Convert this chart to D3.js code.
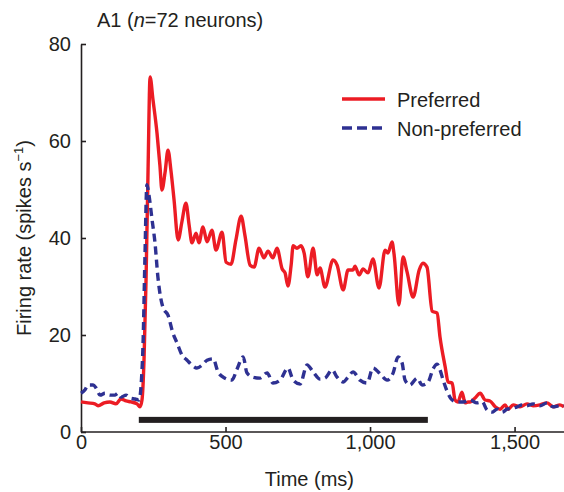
<!DOCTYPE html>
<html>
<head>
<meta charset="utf-8">
<script src="https://cdn.jsdelivr.net/npm/d3@7/dist/d3.min.js"></script>
<style>
  html, body { margin: 0; padding: 0; background: #fff; }
  svg { display: block; font-family: "Liberation Sans", Arial, Helvetica, sans-serif; }
</style>
</head>
<body>
<svg id="chart" width="564" height="492"></svg>
<script>
// ---- Data ----
const preferredTime = [0,24,48,59,80,100,121,138,156,173,194,204,211,218,225,232,239,249,263,273,280,291,301,311,322,336,349,363,374,384,398,408,422,436,453,467,488,502,519,536,554,567,585,599,616,633,647,664,678,696,706,716,727,734,747,761,772,785,803,817,827,844,872,886,907,924,941,948,962,976,993,1010,1031,1052,1062,1076,1083,1100,1114,1128,1149,1170,1183,1197,1215,1232,1242,1260,1270,1284,1294,1304,1318,1329,1339,1346,1363,1381,1398,1415,1433,1450,1467,1478,1495,1519,1543,1564,1588,1612,1633,1657,1671];
const preferredRate = [6.2,6.0,5.8,5.4,6.0,6.2,5.8,6.8,6.4,6.2,5.8,5.2,6.6,14.8,31.3,54,73.2,68.5,61.6,55,49.9,53.6,58.1,54,47.8,39.6,43.3,47.2,42.7,39,41,39,42.3,39.2,41.6,37.5,41.2,35,34.6,39.6,44.5,40.6,34.4,34,37.9,35.9,37.3,35.9,37.9,33.6,32.8,30.1,34.4,38.4,37.9,38.4,36.9,32,37.9,32.4,33.8,29.9,35.5,34.4,29.3,33.4,33.4,34.2,32.4,33.6,32.8,35.7,29.7,37.5,36.9,39.2,36.7,26.2,36.1,33,27.8,33.4,34.8,34,24.9,24.5,19.6,13.4,10.3,10.1,6.6,6.2,8.2,6,6.2,6.2,7,8,6.6,6.4,5.2,4.7,5.6,4.7,5.6,5.2,5.8,5.4,5.6,6,5.2,5.6,5.2];

const nonPreferredTime = [0,14,24,42,52,66,83,100,118,128,138,156,170,187,201,208,215,221,228,235,246,256,266,284,301,318,332,349,367,384,401,419,436,457,474,498,522,540,561,574,595,619,644,664,689,716,734,758,782,803,827,844,869,886,907,924,941,965,990,1010,1035,1059,1080,1097,1111,1121,1138,1163,1180,1201,1218,1232,1242,1253,1266,1284,1301,1322,1346,1370,1388,1405,1422,1439,1457,1474,1491,1509,1526,1543,1564,1588,1612,1633,1657,1671];
const nonPreferredRate = [8.0,8.7,9.7,9.7,9.1,7.6,8.0,7.6,7.6,8.0,7.2,7.6,7.0,6.8,6.6,9.7,19,35.5,51,48.9,43.7,39,32,25.6,24.1,20.4,18.4,15.9,14.8,13.8,13.2,13.8,14.8,15.1,12.4,11.1,10.7,13,15.5,12.2,11.3,11.1,12.2,10.1,10.7,13.2,10.7,9.9,13.8,12.4,10.9,11.1,12.8,11.3,10.3,11.3,12.4,10.7,10.1,13.2,12,10.7,12.2,15.5,14.2,10.7,9.7,11.1,9.7,10.3,13,14,12.8,10.7,8.5,6.6,6.2,6.2,6.6,6,6.2,4.5,4.1,4.7,4.1,4.7,4.9,5.2,5.6,5.4,5.8,5.4,6,5.2,5.4,5.4];

const stimulusWindow = [200, 1200];
const stimulusLevel = 2.5;

const xTicks = [0, 500, 1000, 1500];
const yTicks = [0, 20, 40, 60, 80];
const seriesNames = ["Preferred", "Non-preferred"];
const titleParts = ["A1 (", "n", "=72 neurons)"];

// ---- Layout ----
const svg = d3.select("#chart");
const RED = "#ec1c24", BLUE = "#2e3192";
const x = d3.scaleLinear().domain([0, 1671]).range([81, 564]);
const y = d3.scaleLinear().domain([0, 80]).range([432, 44]);

// Title
const title = svg.append("text").attr("x", 97).attr("y", 27).attr("font-size", 20).attr("fill", "#231f20");
title.append("tspan").text(titleParts[0]);
title.append("tspan").attr("font-style", "italic").text(titleParts[1]);
title.append("tspan").text(titleParts[2]);

// Axes
const fmt = d3.format(",");
const xAxis = d3.axisBottom(x).tickValues(xTicks).tickFormat(fmt).tickSizeInner(-5).tickSizeOuter(0).tickPadding(3);
const yAxis = d3.axisLeft(y).tickValues(yTicks).tickSizeInner(-5).tickSizeOuter(0).tickPadding(10);

const gx = svg.append("g").attr("transform", `translate(0,${y(0)})`).call(xAxis);
const gy = svg.append("g").attr("transform", `translate(${x(0)},0)`).call(yAxis);
[gx, gy].forEach(g => {
  g.attr("font-family", null).attr("font-size", null);
  g.selectAll("path.domain").attr("stroke", "#231f20").attr("stroke-width", 1.6);
  g.selectAll(".tick line").attr("stroke", "#231f20").attr("stroke-width", 1.6);
  g.selectAll(".tick text").attr("fill", "#231f20").attr("font-size", 20);
});
gx.select("path.domain").attr("d", `M${x(0)},0H564`);

// Axis labels
svg.append("text").attr("x", x(790)).attr("y", 486).attr("text-anchor", "middle")
  .attr("font-size", 20).attr("fill", "#231f20").text("Time (ms)");
const yl = svg.append("text").attr("transform", `translate(31,${y(40)}) rotate(-90)`)
  .attr("text-anchor", "middle").attr("font-size", 20).attr("fill", "#231f20");
yl.append("tspan").text("Firing rate (spikes s");
yl.append("tspan").attr("font-size", 13).attr("dy", -8).text("\u22121");
yl.append("tspan").attr("dy", 8).text(")");

// Stimulus bar
svg.append("rect")
  .attr("x", x(stimulusWindow[0])).attr("width", x(stimulusWindow[1]) - x(stimulusWindow[0]))
  .attr("y", y(stimulusLevel) - 3).attr("height", 6).attr("fill", "#231f20");

// Lines
const line = d3.line().x(d => x(d[0])).y(d => y(d[1])).curve(d3.curveMonotoneX);
const prefData = preferredTime.map((t, i) => [t, preferredRate[i]]);
const nonData = nonPreferredTime.map((t, i) => [t, nonPreferredRate[i]]);

svg.append("path").datum(prefData).attr("d", line)
  .attr("fill", "none").attr("stroke", RED).attr("stroke-width", 3.4).attr("stroke-linejoin", "round");
svg.append("path").datum(nonData).attr("d", line)
  .attr("fill", "none").attr("stroke", BLUE).attr("stroke-width", 3.4).attr("stroke-dasharray", "8,5");

// Legend
const legend = svg.append("g");
const legendItems = [
  { name: seriesNames[0], color: RED, dash: null, y: 99 },
  { name: seriesNames[1], color: BLUE, dash: "10,5", y: 128 }
];
legendItems.forEach(it => {
  legend.append("line").attr("x1", 342).attr("x2", 385).attr("y1", it.y).attr("y2", it.y)
    .attr("stroke", it.color).attr("stroke-width", 3.5).attr("stroke-dasharray", it.dash);
  legend.append("text").attr("x", 397).attr("y", it.y + 8).attr("font-size", 20)
    .attr("fill", "#231f20").text(it.name);
});
</script>
</body>
</html>
